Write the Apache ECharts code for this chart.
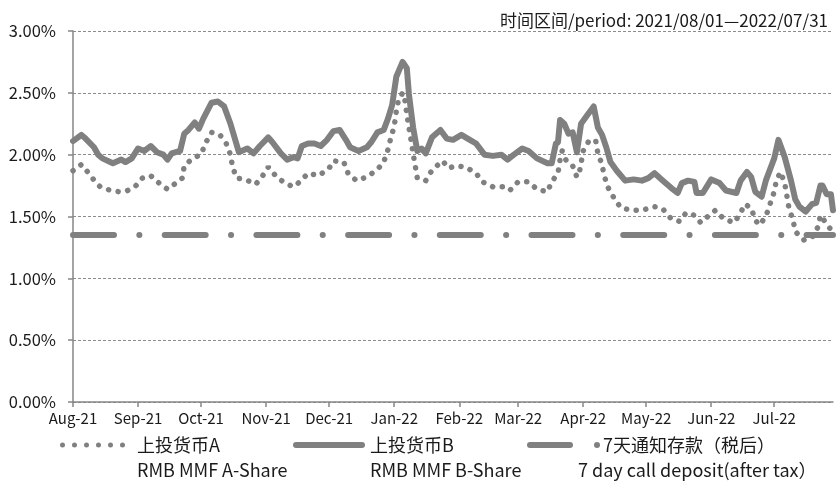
<!DOCTYPE html>
<html>
<head>
<meta charset="utf-8">
<script src="https://cdn.jsdelivr.net/npm/echarts@6/dist/echarts.min.js"></script>
<style>
  html, body { margin: 0; padding: 0; background: #fff; }
  #main { width: 836px; height: 496px; }
</style>
</head>
<body>
<div id="main"></div>
<script>
// 月份刻度
var monthStarts = ['2021-08-01', '2021-09-01', '2021-10-01', '2021-11-01', '2021-12-01', '2022-01-01',
    '2022-02-01', '2022-03-01', '2022-04-01', '2022-05-01', '2022-06-01', '2022-07-01'];
var monthLabels = ['Aug-21', 'Sep-21', 'Oct-21', 'Nov-21', 'Dec-21', 'Jan-22',
    'Feb-22', 'Mar-22', 'Apr-22', 'May-22', 'Jun-22', 'Jul-22'];
var yTicks = [0, 0.5, 1, 1.5, 2, 2.5, 3];

// 上投货币A (%)
var seriesA = [
    ['2021-08-01', 1.87], ['2021-08-05', 1.92], ['2021-08-09', 1.84], ['2021-08-12', 1.77],
    ['2021-08-14', 1.74], ['2021-08-19', 1.71], ['2021-08-23', 1.70], ['2021-08-27', 1.71],
    ['2021-08-31', 1.75], ['2021-09-03', 1.81], ['2021-09-07', 1.83], ['2021-09-11', 1.77],
    ['2021-09-15', 1.72], ['2021-09-19', 1.77], ['2021-09-22', 1.81], ['2021-09-23', 1.91],
    ['2021-09-27', 1.97], ['2021-10-01', 2.00], ['2021-10-03', 2.09], ['2021-10-06', 2.18],
    ['2021-10-10', 2.16], ['2021-10-13', 2.09], ['2021-10-15', 2.00], ['2021-10-16', 1.90],
    ['2021-10-18', 1.81], ['2021-10-22', 1.80], ['2021-10-27', 1.76], ['2021-10-30', 1.82],
    ['2021-11-02', 1.90], ['2021-11-06', 1.82], ['2021-11-10', 1.77], ['2021-11-14', 1.74],
    ['2021-11-17', 1.78], ['2021-11-21', 1.85], ['2021-11-26', 1.83], ['2021-12-01', 1.89],
    ['2021-12-03', 1.95], ['2021-12-08', 1.94], ['2021-12-10', 1.85], ['2021-12-14', 1.79],
    ['2021-12-19', 1.82], ['2021-12-24', 1.88], ['2021-12-27', 1.94], ['2021-12-29', 2.04],
    ['2021-12-30', 2.11], ['2021-12-31', 2.17], ['2022-01-01', 2.23], ['2022-01-02', 2.35],
    ['2022-01-03', 2.44], ['2022-01-05', 2.50], ['2022-01-06', 2.45], ['2022-01-07', 2.33],
    ['2022-01-08', 2.22], ['2022-01-09', 2.12], ['2022-01-10', 2.01], ['2022-01-11', 1.91],
    ['2022-01-12', 1.81], ['2022-01-16', 1.79], ['2022-01-18', 1.85], ['2022-01-20', 1.89],
    ['2022-01-24', 1.95], ['2022-01-27', 1.89], ['2022-01-30', 1.91], ['2022-02-04', 1.90],
    ['2022-02-09', 1.85], ['2022-02-12', 1.78], ['2022-02-17', 1.74], ['2022-02-22', 1.74],
    ['2022-02-25', 1.71], ['2022-03-01', 1.78], ['2022-03-06', 1.78], ['2022-03-10', 1.72],
    ['2022-03-15', 1.70], ['2022-03-17', 1.78], ['2022-03-20', 1.85], ['2022-03-21', 1.96],
    ['2022-03-22', 2.03], ['2022-03-24', 1.95], ['2022-03-27', 1.91], ['2022-03-29', 1.82],
    ['2022-03-30', 1.84], ['2022-03-31', 1.93], ['2022-04-01', 2.03], ['2022-04-04', 2.12],
    ['2022-04-07', 2.11], ['2022-04-08', 2.01], ['2022-04-10', 1.92], ['2022-04-11', 1.83],
    ['2022-04-13', 1.73], ['2022-04-16', 1.64], ['2022-04-19', 1.57], ['2022-04-24', 1.55],
    ['2022-04-29', 1.55], ['2022-05-05', 1.58], ['2022-05-09', 1.56], ['2022-05-13', 1.48],
    ['2022-05-17', 1.46], ['2022-05-20', 1.53], ['2022-05-24', 1.51], ['2022-05-27', 1.45],
    ['2022-05-31', 1.51], ['2022-06-03', 1.55], ['2022-06-07', 1.48], ['2022-06-12', 1.45],
    ['2022-06-15', 1.53], ['2022-06-17', 1.60], ['2022-06-20', 1.57], ['2022-06-22', 1.47],
    ['2022-06-24', 1.43], ['2022-06-27', 1.50], ['2022-06-29', 1.60], ['2022-07-01', 1.70],
    ['2022-07-02', 1.79], ['2022-07-04', 1.86], ['2022-07-06', 1.77], ['2022-07-07', 1.67],
    ['2022-07-08', 1.57], ['2022-07-10', 1.47], ['2022-07-11', 1.38], ['2022-07-15', 1.31],
    ['2022-07-19', 1.33], ['2022-07-22', 1.42], ['2022-07-23', 1.51], ['2022-07-26', 1.44],
    ['2022-07-29', 1.37]
];

// 上投货币B (%)
var seriesB = [
    ['2021-08-01', 2.11], ['2021-08-05', 2.16], ['2021-08-07', 2.13], ['2021-08-11', 2.06],
    ['2021-08-13', 2.00], ['2021-08-15', 1.97], ['2021-08-20', 1.93], ['2021-08-24', 1.96],
    ['2021-08-26', 1.94], ['2021-08-29', 1.97], ['2021-09-01', 2.05], ['2021-09-04', 2.03],
    ['2021-09-07', 2.07], ['2021-09-10', 2.02], ['2021-09-13', 2.00], ['2021-09-15', 1.96],
    ['2021-09-17', 2.01], ['2021-09-21', 2.03], ['2021-09-23', 2.17], ['2021-09-25', 2.20],
    ['2021-09-28', 2.26], ['2021-09-30', 2.21], ['2021-10-02', 2.29], ['2021-10-06', 2.42],
    ['2021-10-09', 2.43], ['2021-10-12', 2.39], ['2021-10-15', 2.25], ['2021-10-19', 2.02],
    ['2021-10-23', 2.05], ['2021-10-26', 2.01], ['2021-10-29', 2.07], ['2021-11-02', 2.14],
    ['2021-11-04', 2.10], ['2021-11-08', 2.01], ['2021-11-11', 1.96], ['2021-11-14', 1.98],
    ['2021-11-16', 1.97], ['2021-11-18', 2.07], ['2021-11-21', 2.09], ['2021-11-24', 2.09],
    ['2021-11-27', 2.07], ['2021-11-30', 2.12], ['2021-12-03', 2.19], ['2021-12-06', 2.20],
    ['2021-12-09', 2.12], ['2021-12-11', 2.06], ['2021-12-15', 2.03], ['2021-12-19', 2.06],
    ['2021-12-21', 2.10], ['2021-12-24', 2.18], ['2021-12-27', 2.20], ['2021-12-29', 2.29],
    ['2021-12-31', 2.40], ['2022-01-02', 2.63], ['2022-01-05', 2.75], ['2022-01-07', 2.70],
    ['2022-01-08', 2.49], ['2022-01-10', 2.22], ['2022-01-12', 2.03], ['2022-01-14', 2.05],
    ['2022-01-16', 2.01], ['2022-01-19', 2.14], ['2022-01-23', 2.20], ['2022-01-26', 2.13],
    ['2022-01-29', 2.12], ['2022-02-02', 2.16], ['2022-02-06', 2.12], ['2022-02-09', 2.09],
    ['2022-02-13', 2.00], ['2022-02-17', 1.99], ['2022-02-21', 2.00], ['2022-02-24', 1.96],
    ['2022-02-27', 2.00], ['2022-03-03', 2.05], ['2022-03-06', 2.03], ['2022-03-10', 1.97],
    ['2022-03-15', 1.93], ['2022-03-17', 1.93], ['2022-03-19', 2.09], ['2022-03-20', 2.10],
    ['2022-03-21', 2.28], ['2022-03-23', 2.25], ['2022-03-25', 2.17], ['2022-03-27', 2.18],
    ['2022-03-29', 2.02], ['2022-03-31', 2.25], ['2022-04-03', 2.32], ['2022-04-06', 2.39],
    ['2022-04-08', 2.22], ['2022-04-10', 2.16], ['2022-04-12', 2.06], ['2022-04-14', 1.94],
    ['2022-04-17', 1.87], ['2022-04-21', 1.79], ['2022-04-25', 1.80], ['2022-04-29', 1.79],
    ['2022-05-02', 1.81], ['2022-05-05', 1.85], ['2022-05-09', 1.79], ['2022-05-13', 1.73],
    ['2022-05-16', 1.69], ['2022-05-18', 1.77], ['2022-05-21', 1.79], ['2022-05-24', 1.78],
    ['2022-05-25', 1.69], ['2022-05-28', 1.69], ['2022-06-01', 1.80], ['2022-06-05', 1.77],
    ['2022-06-08', 1.71], ['2022-06-13', 1.69], ['2022-06-15', 1.79], ['2022-06-18', 1.86],
    ['2022-06-20', 1.82], ['2022-06-22', 1.70], ['2022-06-25', 1.66], ['2022-06-27', 1.79],
    ['2022-07-01', 1.97], ['2022-07-03', 2.12], ['2022-07-06', 1.98], ['2022-07-09', 1.79],
    ['2022-07-11', 1.64], ['2022-07-13', 1.58], ['2022-07-16', 1.54], ['2022-07-19', 1.60],
    ['2022-07-21', 1.61], ['2022-07-23', 1.75], ['2022-07-24', 1.75], ['2022-07-26', 1.68],
    ['2022-07-28', 1.68], ['2022-07-29', 1.55]
];

// 7天通知存款（税后）(%)
var seriesDeposit = [['2021-08-01', 1.35], ['2022-07-29', 1.35]];

(function() {
    // 日期类目 2021-08-01 ~ 2022-07-29
    var dates = [];
    var d = new Date(Date.UTC(2021, 7, 1));
    var end = Date.UTC(2022, 6, 29);
    while (d.getTime() <= end) {
        dates.push(d.toISOString().slice(0, 10));
        d = new Date(d.getTime() + 86400000);
    }
    function isMonthStart(index, value) {
        return monthStarts.indexOf(value) >= 0;
    }

    var gray = '#808080';
    var font = 'Noto Sans CJK SC';
    var myChart = echarts.init(document.getElementById('main'), null, { renderer: 'canvas' });

    // 图例文字：空行 + 中文 + 英文，使图标对齐第一行
    function legendText(cn, en, withDot) {
        var first = withDot ? '{sp| }{dot| }{t3|' + cn + '}' : '{t|' + cn + '}';
        return '{e| }\n' + first + '\n{s|' + en + '}';
    }
    var rich = {
        e: { fontSize: 18, lineHeight: 25, fontFamily: font },
        t: { fontSize: 18, lineHeight: 25, fontFamily: font, color: '#1a1a1a' },
        t3: { fontSize: 18, lineHeight: 25, fontFamily: font, color: '#1a1a1a', padding: [0, 0, 0, 3] },
        s: { fontSize: 18, lineHeight: 25, fontFamily: font, color: '#1a1a1a' },
        sp: { width: 16, height: 6, lineHeight: 25 },
        dot: { width: 6, height: 6, backgroundColor: gray, borderRadius: 3, lineHeight: 25 }
    };
    var dotIcon = 'path://M0,2.5a2.5,2.5 0 1,0 5,0a2.5,2.5 0 1,0 -5,0Z' +
        'M12,2.5a2.5,2.5 0 1,0 5,0a2.5,2.5 0 1,0 -5,0Z' +
        'M24,2.5a2.5,2.5 0 1,0 5,0a2.5,2.5 0 1,0 -5,0Z' +
        'M36,2.5a2.5,2.5 0 1,0 5,0a2.5,2.5 0 1,0 -5,0Z' +
        'M48,2.5a2.5,2.5 0 1,0 5,0a2.5,2.5 0 1,0 -5,0Z' +
        'M60,2.5a2.5,2.5 0 1,0 5,0a2.5,2.5 0 1,0 -5,0Z';
    var barIcon = 'path://M3,0H69A3,3 0 0 1 69,6H3A3,3 0 0 1 3,0Z';
    var shortBarIcon = 'path://M3,0H43A3,3 0 0 1 43,6H3A3,3 0 0 1 3,0Z';

    function legendOf(name, icon, left, w, h, textPad) {
        return {
            data: [{ name: name, icon: icon }],
            left: left,
            top: 411,
            padding: 0,
            itemWidth: w,
            itemHeight: h,
            selectedMode: false,
            textStyle: { rich: rich, padding: [0, 0, 0, textPad] },
            formatter: function(n) {
                if (n === '上投货币A') return legendText('上投货币A', 'RMB MMF A-Share');
                if (n === '上投货币B') return legendText('上投货币B', 'RMB MMF B-Share');
                return legendText('7天通知存款（税后）', '7 day call deposit(after tax）', true);
            }
        };
    }

    var option = {
        animation: false,
        title: {
            text: '时间区间/period: 2021/08/01—2022/07/31',
            right: 3,
            top: 7,
            textStyle: { fontSize: 17, fontWeight: 'normal', color: '#1a1a1a', fontFamily: font }
        },
        legend: [
            legendOf('上投货币A', dotIcon, 60, 65, 5, 7),
            legendOf('上投货币B', barIcon, 293, 72, 6, 0),
            legendOf('7天通知存款（税后）', shortBarIcon, 527, 46, 6, 0)
        ],
        grid: { left: 73, right: 3, top: 31, bottom: 94 },
        xAxis: {
            type: 'category',
            boundaryGap: false,
            data: dates,
            axisLine: { lineStyle: { color: '#868686', width: 1.5 } },
            axisTick: { interval: isMonthStart, length: 5, lineStyle: { color: '#868686', width: 1.5 } },
            axisLabel: {
                interval: isMonthStart,
                margin: 9,
                fontSize: 15,
                fontFamily: font,
                color: '#1a1a1a',
                formatter: function(v) { return monthLabels[monthStarts.indexOf(v)]; }
            },
            splitLine: { show: false }
        },
        yAxis: {
            type: 'value',
            min: yTicks[0],
            max: yTicks[yTicks.length - 1],
            interval: 0.5,
            axisLine: { show: true, lineStyle: { color: '#868686', width: 1.5 } },
            axisTick: { show: true, length: 5, lineStyle: { color: '#868686', width: 1.5 } },
            axisLabel: {
                margin: 17,
                fontSize: 16.5,
                fontFamily: font,
                color: '#1a1a1a',
                formatter: function(v) { return v.toFixed(2) + '%'; }
            },
            splitLine: { lineStyle: { color: '#8c8c8c', width: 1, type: [3, 2] } }
        },
        series: [
            {
                name: '上投货币A',
                type: 'line',
                showSymbol: false,
                data: seriesA,
                lineStyle: { color: gray, width: 5.5, type: [0.1, 9.6], cap: 'round' },
                itemStyle: { color: gray }
            },
            {
                name: '上投货币B',
                type: 'line',
                showSymbol: false,
                data: seriesB,
                lineStyle: { color: gray, width: 6, cap: 'round', join: 'round' },
                itemStyle: { color: gray }
            },
            {
                name: '7天通知存款（税后）',
                type: 'line',
                showSymbol: false,
                data: seriesDeposit,
                lineStyle: { color: gray, width: 6, type: [41, 25.3, 0.1, 25.3], cap: 'round' },
                itemStyle: { color: gray }
            }
        ]
    };
    myChart.setOption(option);
})();
</script>
</body>
</html>
